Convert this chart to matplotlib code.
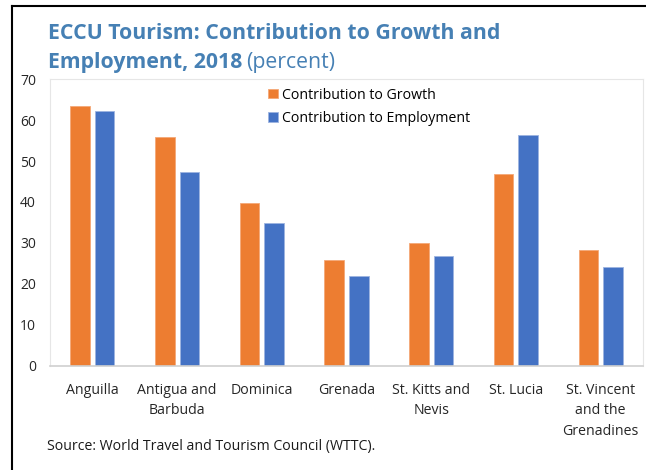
import numpy as np
import matplotlib.pyplot as plt
from matplotlib.lines import Line2D

# Datos
paises = ["Anguilla", "Antigua and\nBarbuda", "Dominica", "Grenada",
          "St. Kitts and\nNevis", "St. Lucia", "St. Vincent\nand the\nGrenadines"]
crecimiento = [63.5, 55.9, 39.8, 25.9, 30.0, 46.8, 28.3]
empleo = [62.2, 47.2, 34.9, 22.0, 26.8, 56.3, 24.1]

plt.rcParams['font.family'] = ['Open Sans', 'DejaVu Sans']

fig = plt.figure(figsize=(6.46, 4.70), dpi=100)
ax = fig.add_axes([0.0774, 0.2213, 0.918, 0.6106])

x = np.arange(len(paises))
ancho = 0.23
ax.bar(x - 0.145, crecimiento, ancho, color="#ED7D31", edgecolor="#F4A877",
       linewidth=0.6, label="Contribution to Growth")
ax.bar(x + 0.145, empleo, ancho, color="#4472C4", edgecolor="#9DB4E0",
       linewidth=0.6, label="Contribution to Employment")

ax.set_xlim(-0.5, len(paises) - 0.5)
ax.set_ylim(0, 70)
ax.set_yticks(range(0, 71, 10))
ax.set_xticks(x)
ax.set_xticklabels(paises, fontsize=10.2, linespacing=1.5, color="#262626")
ax.tick_params(axis="y", labelsize=10, colors="#262626", length=0, pad=10)
ax.tick_params(axis="x", length=0, pad=12)
for s in ["left", "top", "right"]:
    ax.spines[s].set_color("#E6E6E6")
ax.spines["bottom"].set_color("#D0D0D0")
ax.spines["bottom"].set_linewidth(1.2)

ax.legend(loc="upper left", bbox_to_anchor=(0.354, 1.0), frameon=False,
          fontsize=10.2, handlelength=0.65, handleheight=0.65, handletextpad=0.3,
          labelspacing=0.6, borderaxespad=0.2)

# Titulo
color_tit = "#4680B4"
fig.text(0.0743, 0.928, "ECCU Tourism: Contribution to Growth and",
         fontsize=15.3, fontweight="bold", color=color_tit, va="center")
t = fig.text(0.0743, 0.866, "Employment, 2018", fontsize=15.3, fontweight="bold",
             color=color_tit, va="center")
fig.canvas.draw()
bb = t.get_window_extent()
fig.text(bb.x1 / fig.bbox.width + 0.006, 0.866, "(percent)", fontsize=15.3,
         color=color_tit, va="center")

fig.text(0.0728, 0.050, "Source: World Travel and Tourism Council (WTTC).",
         fontsize=10.2, color="#1a1a1a", va="center")

# Borde
fig.add_artist(Line2D([0.0186, 0.0186], [0, 0.987], color="black", lw=1.5))
fig.add_artist(Line2D([0.0186, 1.0], [0.987, 0.987], color="black", lw=1.5))

plt.savefig("out.png", dpi=100)
